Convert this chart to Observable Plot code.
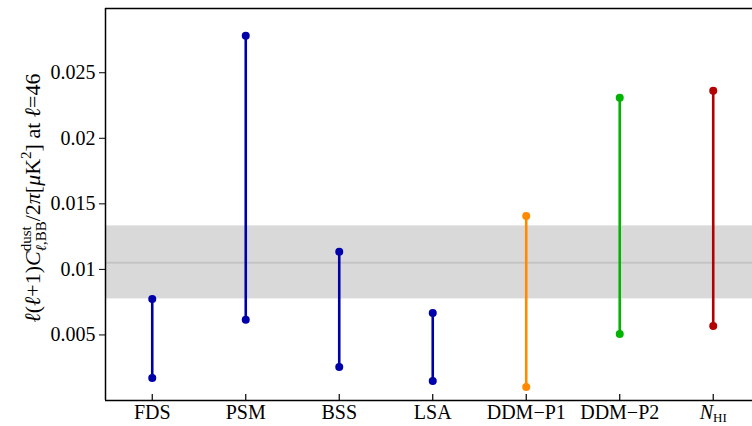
<!DOCTYPE html>
<html><head><meta charset="utf-8">
<script src="https://cdn.jsdelivr.net/npm/d3@7"></script>
<script src="https://cdn.jsdelivr.net/npm/@observablehq/plot@0.6"></script>
<style>body{margin:0;background:#fff}</style>
</head><body><div id="chart"></div>
<script>
const categories = ["FDS","PSM","BSS","LSA","DDM−P1","DDM−P2","NHI"];
const groups = ["model","model","model","model","DDM-P1","DDM-P2","NHI"];
const upper = [0.00775,0.02782,0.01134,0.00668,0.01408,0.02309,0.02363];
const lower = [0.00172,0.00615,0.00256,0.00149,0.00103,0.00508,0.00569];
const bandLow = 0.00775, bandHigh = 0.01332, bandMid = 0.0105;
const yTicks = [0.005,0.01,0.015,0.02,0.025];
const yTickLabels = ["0.005","0.01","0.015","0.02","0.025"];
const xDomain = [-0.5, 6.42], yDomain = [0, 0.0299];
const serif = "'Liberation Serif', 'Times New Roman', serif";

const data = categories.map((c,i)=>({i, name:c, group:groups[i], lo:lower[i], hi:upper[i]}));
const pts = data.flatMap(d=>[{i:d.i,group:d.group,v:d.lo},{i:d.i,group:d.group,v:d.hi}]);
const band = [{x1:xDomain[0], x2:xDomain[1], lo:bandLow, hi:bandHigh}];

const plot = Plot.plot({
  width:752, height:426, marginLeft:105, marginRight:0, marginTop:8, marginBottom:26,
  style:{fontFamily:serif, fontSize:"20px", background:"white", color:"black"},
  x:{domain:xDomain, label:null, axis:null},
  y:{domain:yDomain, label:null, axis:null},
  color:{domain:["model","DDM-P1","DDM-P2","NHI"], range:["#0000aa","#ff8a00","#00b400","#b40000"]},
  marks:[
    Plot.rect(band,{x1:"x1",x2:"x2",y1:"lo",y2:"hi",fill:"#d9d9d9"}),
    Plot.ruleY([bandMid],{stroke:"#c4c4c4",strokeWidth:2}),
    Plot.ruleX(data,{x:"i",y1:"lo",y2:"hi",stroke:"group",strokeWidth:2.6}),
    Plot.dot(pts,{x:"i",y:"v",fill:"group",r:4}),
    Plot.tickX(d3.range(categories.length),{x:d=>d,stroke:"black",strokeWidth:1.2,insetTop:386}),
    Plot.ruleX([xDomain[0]],{stroke:"black",strokeWidth:1.5}),
    Plot.ruleY(yDomain,{stroke:"black",strokeWidth:1.5}),
    Plot.axisX(d3.range(categories.length),{tickFormat:i=>categories[i],tickSize:0,tickPadding:4,fontSize:20,fontFamily:serif}),
    Plot.axisY(yTicks,{tickFormat:d=>yTickLabels[yTicks.indexOf(d)],tickSize:6,tickPadding:4,fontSize:20,fontFamily:serif,fontVariant:"normal"})
  ]
});
document.getElementById("chart").appendChild(plot);

const svg = d3.select(plot);
svg.selectAll("text").attr("font-family", serif);
// N_HI label with subscript
svg.selectAll("text").filter(function(){return this.textContent==="NHI";}).each(function(){
  const t = d3.select(this); t.text("");
  t.append("tspan").attr("font-style","italic").text("N");
  t.append("tspan").attr("font-size","13px").attr("dy","3").text("HI");
});

// y-axis label
const lab = svg.append("text")
  .attr("transform","translate(40,198) rotate(-90)")
  .attr("text-anchor","middle")
  .attr("font-family",serif)
  .attr("font-size","22px").attr("fill","black");
lab.append("tspan").attr("font-style","italic").text("ℓ");
lab.append("tspan").text("(");
lab.append("tspan").attr("font-style","italic").text("ℓ");
lab.append("tspan").text("+1)");
lab.append("tspan").attr("font-style","italic").text("C");
const sup = lab.append("tspan").attr("font-size","15px").attr("dy","-9").text("dust");
const sub = lab.append("tspan").attr("font-size","15px").attr("dy","15");
sub.append("tspan").attr("font-style","italic").text("ℓ");
sub.append("tspan").text(",BB");
lab.append("tspan").attr("dy","-6").text("/2");
lab.append("tspan").attr("font-style","italic").text("π");
lab.append("tspan").text("[");
lab.append("tspan").attr("font-style","italic").text("μ");
lab.append("tspan").text("K");
lab.append("tspan").attr("font-size","15px").attr("dy","-9").text("2");
lab.append("tspan").attr("dy","9").text("] at ");
lab.append("tspan").attr("font-style","italic").text("ℓ");
lab.append("tspan").text("=46");
const wSup = sup.node().getComputedTextLength();
const wSub = sub.node().getComputedTextLength();
sub.attr("dx", -wSup);
if (wSub < wSup) d3.select(sub.node().nextSibling).attr("dx", wSup - wSub);
</script>
</body></html>
